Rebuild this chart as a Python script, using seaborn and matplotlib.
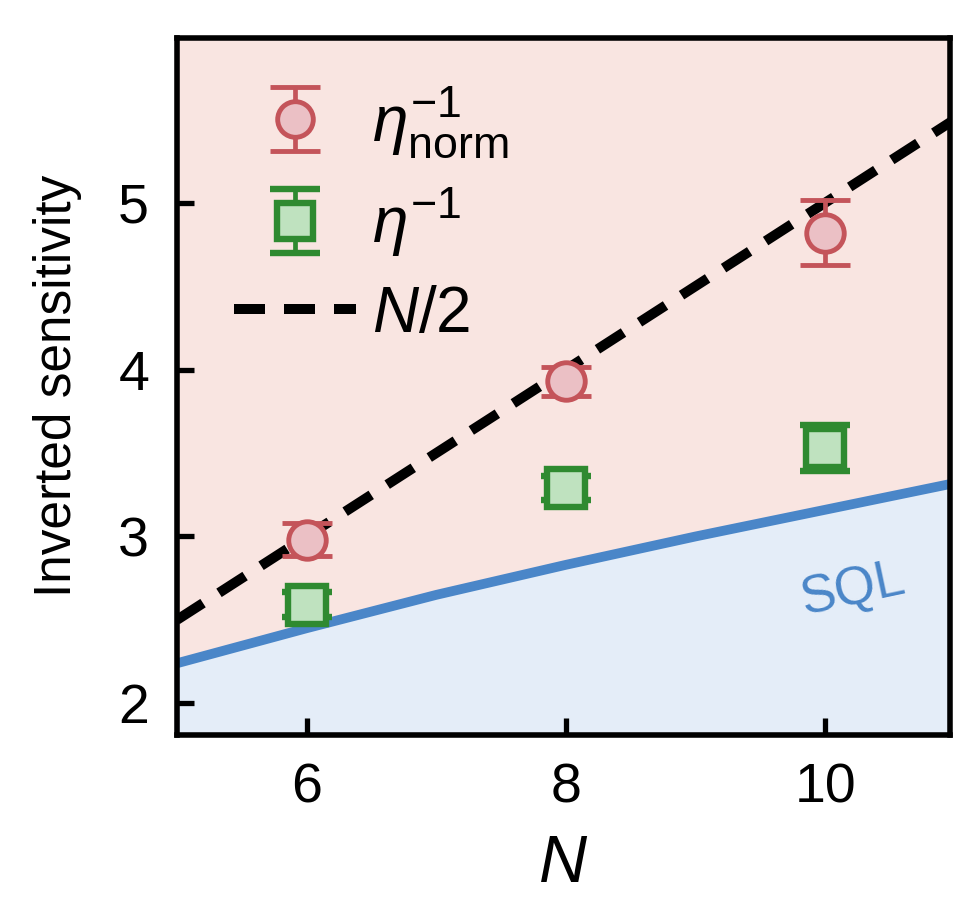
import numpy as np
import pandas as pd
import matplotlib
matplotlib.use("Agg")
import matplotlib.pyplot as plt
import seaborn as sns

# data
n_vals = [6, 8, 10]
eta_norm = [2.98, 3.93, 4.82]
eta_norm_err = [0.10, 0.087, 0.195]
eta_raw = [2.59, 3.29, 3.53]
eta_raw_err = [0.075, 0.07, 0.14]

half_n_x = [5, 11]
half_n_y = [2.5, 5.5]

sql_x = [5, 6, 7, 8, 9, 10, 11]
sql_y = [2.24, 2.45, 2.65, 2.83, 3.00, 3.16, 3.32]

sns.set_theme(style="ticks")
plt.rcParams['font.family'] = ['Liberation Sans', 'DejaVu Sans']
plt.rcParams['mathtext.fontset'] = 'custom'
plt.rcParams['mathtext.rm'] = 'Liberation Sans'
plt.rcParams['mathtext.it'] = 'Liberation Sans:italic'
plt.rcParams['text.color'] = 'black'
plt.rcParams['axes.labelcolor'] = 'black'
plt.rcParams['xtick.color'] = 'black'
plt.rcParams['ytick.color'] = 'black'

red_edge = '#c4545a'
red_face = '#ebc0c5'
green_edge = '#2f8a30'
green_face = '#bfe2bf'
blue = '#4a86c8'

fig = plt.figure(figsize=(9.75, 9), dpi=100)
ax = fig.add_axes([0.1815, 0.1833, 0.7925, 0.775])

ylo, yhi = 1.81, 5.99
xlo, xhi = 5.0, 10.96

# shaded regions above / below the SQL curve
ax.fill_between(sql_x, sql_y, yhi, color='#f9e5e1', lw=0, zorder=0)
ax.fill_between(sql_x, ylo, sql_y, color='#e4edf8', lw=0, zorder=0)

df_sql = pd.DataFrame({'N': sql_x, 'v': sql_y})
sns.lineplot(data=df_sql, x='N', y='v', color=blue, lw=7, ax=ax, zorder=2)

df_half = pd.DataFrame({'N': half_n_x, 'v': half_n_y})
sns.lineplot(data=df_half, x='N', y='v', color='black', lw=7.2, ax=ax, zorder=3)
dash_line = ax.get_lines()[-1]
dash_line.set_dashes([3.1, 1.9])

h1 = ax.errorbar(n_vals, eta_norm, yerr=eta_norm_err, fmt='o', ms=27,
                 mfc=red_face, mec=red_edge, mew=3.5, ecolor=red_edge,
                 elinewidth=3.4, capsize=18, capthick=3.8, zorder=5)
h2 = ax.errorbar(n_vals, eta_raw, yerr=eta_raw_err, fmt='s', ms=27,
                 mfc=green_face, mec=green_edge, mew=4.6, ecolor=green_edge,
                 elinewidth=3.4, capsize=18, capthick=3.8, zorder=5)

ax.text(9.78, 2.68, 'SQL', color=blue, fontsize=38, rotation=12,
        ha='left', va='center')

ax.set_xlim(xlo, xhi)
ax.set_ylim(ylo, yhi)
ax.set_xticks([6, 8, 10])
ax.set_yticks([2, 3, 4, 5])
ax.set_xlabel('$N$', fontsize=48, labelpad=14)
ax.set_ylabel('Inverted sensitivity', fontsize=37, labelpad=26)
ax.tick_params(direction='in', length=12, width=3.8, labelsize=40, pad=20)
for s in ax.spines.values():
    s.set_linewidth(4)
    s.set_color('black')

leg = ax.legend(handles=[h1, h2, dash_line],
                labels=[r'$\eta^{-1}_{\mathrm{norm}}$', r'$\eta^{-1}$', '$N/2$'],
                loc='upper left', bbox_to_anchor=(0.0, 1.015), frameon=False,
                fontsize=46, handlelength=1.9, handletextpad=0.25,
                labelspacing=0.4, markerscale=0.95)

fig.savefig('out.png', dpi=100)
